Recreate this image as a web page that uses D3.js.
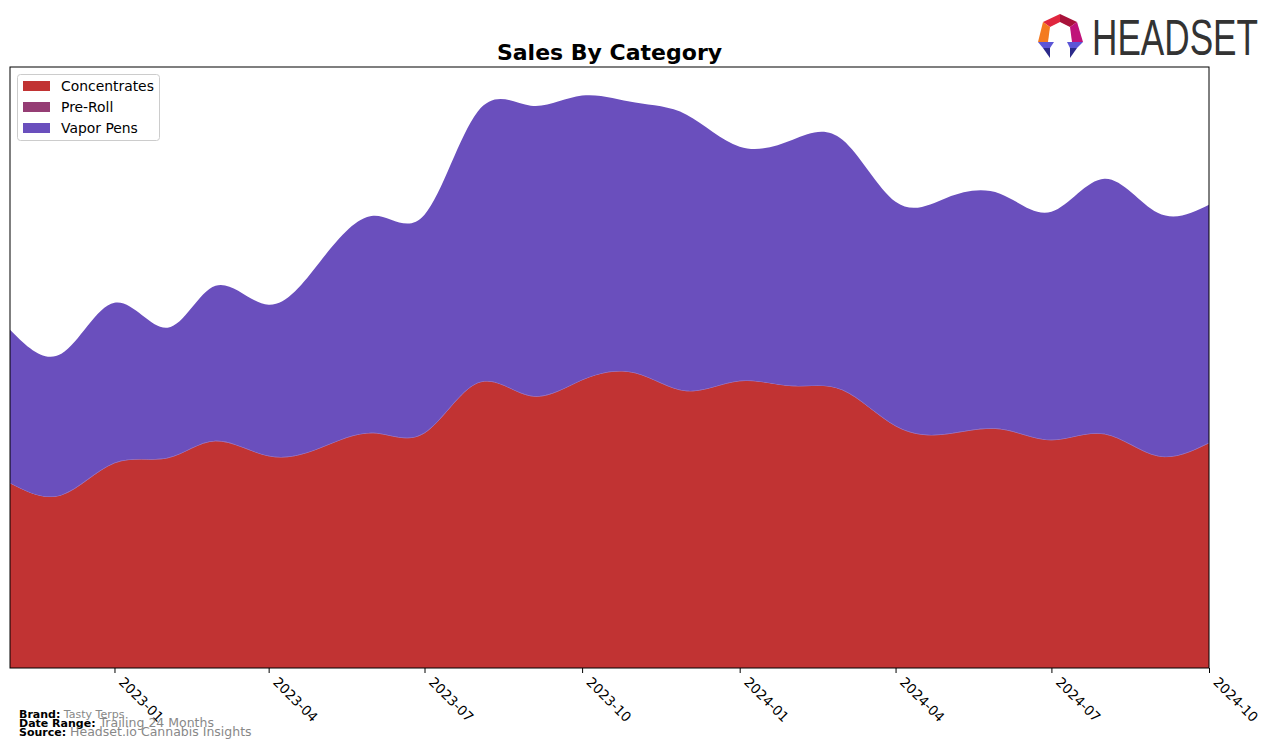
<!DOCTYPE html>
<html><head><meta charset="utf-8">
<script src="https://cdn.jsdelivr.net/npm/d3@7"></script>
<style>body{margin:0;background:#fff}svg{display:block;font-family:"DejaVu Sans",sans-serif}</style>
</head><body>
<svg id="chart" width="1276" height="748"></svg>
<script>
const months = ["2022-11","2022-12","2023-01","2023-02","2023-03","2023-04","2023-05","2023-06","2023-07","2023-08","2023-09","2023-10","2023-11","2023-12","2024-01","2024-02","2024-03","2024-04","2024-05","2024-06","2024-07","2024-08","2024-09","2024-10"];
const concentrates = [18500,17300,20500,21000,22700,21200,22000,23500,23500,28500,27200,28800,29500,27700,28700,28200,27800,24200,23400,23900,22800,23400,21200,22500];
const preRoll = [0,0,0,0,0,0,0,0,0,0,0,0,0,0,0,0,0,0,0,0,0,0,0,0];
const vaporPens = [15300,14100,16000,13000,15500,15100,18600,21700,21800,27100,29000,28400,27000,27600,23400,24600,25000,22400,23600,23500,22800,25500,24300,23800];
const seriesNames = ["Concentrates","Pre-Roll","Vapor Pens"];
const colors = ["#c13333","#953d74","#6a4fbd"];
const tickLabels = ["2023-01","2023-04","2023-07","2023-10","2024-01","2024-04","2024-07","2024-10"];

const parse = d3.timeParse("%Y-%m");
const rows = months.map((m,i)=>({date:parse(m),"Concentrates":concentrates[i],"Pre-Roll":preRoll[i],"Vapor Pens":vaporPens[i]}));
const svg = d3.select("#chart");
const L=10,R=1209,T=67,B=668;
const x = d3.scaleTime().domain(d3.extent(rows,d=>d.date)).range([L,R]);
const stack = d3.stack().keys(seriesNames)(rows);
const maxTot = d3.max(stack[stack.length-1], d=>d[1]);
const y = d3.scaleLinear().domain([0,maxTot*1.05]).range([B,T]);
const area = d3.area().x(d=>x(d.data.date)).y0(d=>y(d[0])).y1(d=>y(d[1])).curve(d3.curveNatural);

svg.append("g").selectAll("path").data(stack).join("path")
  .attr("d",area).attr("fill",(d,i)=>colors[i])
  .attr("stroke",(d,i)=>i===1?"#9a7fd0":"none").attr("stroke-width",0.6);

// frame
svg.append("rect").attr("x",L).attr("y",T).attr("width",R-L).attr("height",B-T).attr("fill","none").attr("stroke","#000").attr("stroke-width",1);

// x axis
const ax = svg.append("g").attr("transform",`translate(0,${B})`)
  .call(d3.axisBottom(x).tickValues(tickLabels.map(parse)).tickFormat(d3.timeFormat("%Y-%m")).tickSizeOuter(0).tickSize(5));
ax.select(".domain").remove();
ax.selectAll("line").attr("stroke","#000");
ax.selectAll("text").attr("font-size","13.5px").attr("fill","#000").attr("font-family","DejaVu Sans")
  .attr("text-anchor","start").attr("dy",null).attr("y",null)
  .attr("transform","translate(3,15) rotate(45)");

// title
svg.append("text").attr("x",(L+R)/2).attr("y",60).attr("text-anchor","middle")
  .attr("font-size","22px").attr("font-weight","bold").text("Sales By Category");

// legend
const lg = svg.append("g");
lg.append("rect").attr("x",17.5).attr("y",74.5).attr("width",142).attr("height",66).attr("rx",3)
  .attr("fill","#fff").attr("fill-opacity",0.8).attr("stroke","#ccc");
seriesNames.forEach((n,i)=>{
  const yy=86+i*21;
  lg.append("rect").attr("x",23).attr("y",yy-5).attr("width",27).attr("height",10).attr("fill",colors[i]);
  lg.append("text").attr("x",61).attr("y",yy+5).attr("font-size","13.9px").text(n);
});

// footer
const foot=[["Brand:","Tasty Terps",11],["Date Range:","Trailing 24 Months",12.5],["Source:","Headset.io Cannabis Insights",12.5]];
foot.forEach((f,i)=>{
  const t=svg.append("text").attr("x",19).attr("y",718+i*9).attr("font-size","11px");
  t.append("tspan").attr("font-weight","bold").attr("fill","#000").text(f[0]);
  t.append("tspan").attr("fill","#888").attr("font-size",f[2]+"px").text(" "+f[1]);
});

// logo
const logo=svg.append("g");
const polys=[
 {p:[[1043,22],[1060,14],[1060,22],[1050,27]],c:"#e0263f"},
 {p:[[1060,14],[1077,22],[1070,27],[1060,22]],c:"#a8123a"},
 {p:[[1043,22],[1050,27],[1048,42],[1038,42]],c:"#f47a20"},
 {p:[[1077,22],[1083,42],[1072,42],[1070,27]],c:"#c0137a"},
 {p:[[1038,42],[1054,42],[1050,48],[1043,48]],c:"#5b55d6"},
 {p:[[1043,48],[1050,48],[1050,58]],c:"#2b2a8a"},
 {p:[[1067,42],[1083,42],[1077,48],[1070,48]],c:"#5b55d6"},
 {p:[[1070,48],[1077,48],[1070,58]],c:"#2b2a8a"}
];
polys.forEach(o=>logo.append("polygon").attr("points",o.p.map(q=>q.join(",")).join(" ")).attr("fill",o.c));
logo.append("text").attr("x",1092).attr("y",55).attr("font-size","50px").attr("font-family","Liberation Sans, Arial")
  .attr("fill","#333").attr("textLength",166).attr("lengthAdjust","spacingAndGlyphs").text("HEADSET");
</script>
</body></html>
